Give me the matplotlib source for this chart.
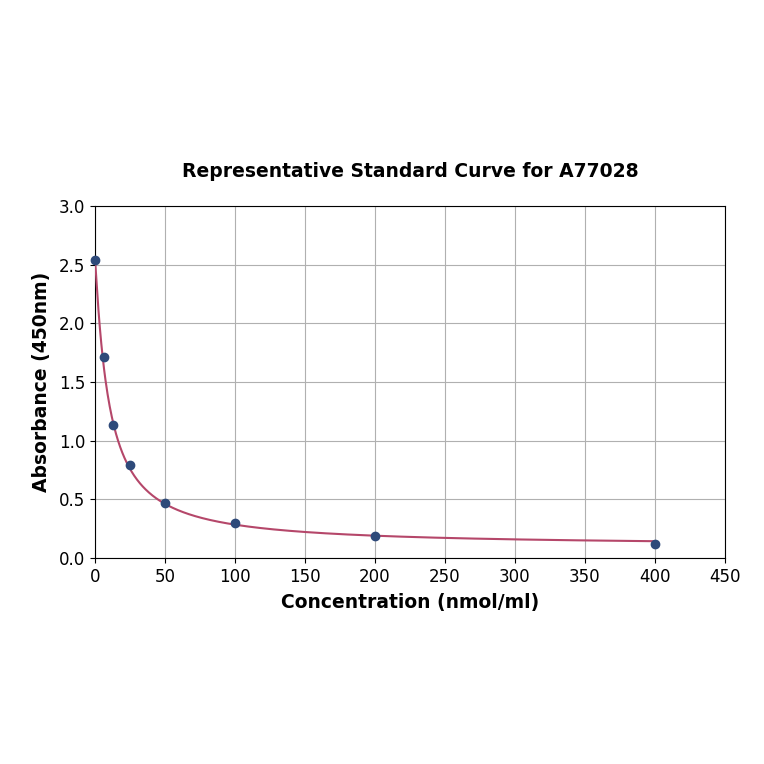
import numpy as np
import matplotlib
matplotlib.use("Agg")
import matplotlib.pyplot as plt

# standard points
conc = [0, 6.25, 12.5, 25, 50, 100, 200, 400]
absorb = [2.54, 1.71, 1.13, 0.79, 0.47, 0.30, 0.19, 0.12]

# 4PL fit parameters (top, slope, midpoint, bottom) estimated from the curve
fit_top = 2.55
fit_slope = 1.09
fit_mid = 10.0
fit_bottom = 0.10

def four_pl(x):
	return fit_bottom + (fit_top - fit_bottom) / (1 + (x / fit_mid) ** fit_slope)

fig = plt.figure(figsize=(7.64, 7.64), dpi=100, facecolor="white")
ax = fig.add_axes([95/764, 1-558/764, 630/764, 352/764])

xs = np.linspace(0, max(conc), 800)
ax.plot(xs, four_pl(xs), color="#b5476a", lw=1.5, zorder=3)
ax.scatter(conc, absorb, s=36, color="#2e4a7a", zorder=4, clip_on=False)

ax.set_xlim(0, 450)
ax.set_ylim(0, 3.0)
ax.set_xticks(np.arange(0, 451, 50))
ax.set_yticks(np.arange(0, 3.01, 0.5))
ax.grid(True, color="#b0b0b0", lw=0.8)
ax.set_axisbelow(True)
ax.tick_params(labelsize=12)

ax.set_title("Representative Standard Curve for A77028", fontsize=13.5, fontweight="bold", pad=21)
ax.set_xlabel("Concentration (nmol/ml)", fontsize=13.5, fontweight="bold", labelpad=5)
ax.set_ylabel("Absorbance (450nm)", fontsize=13.5, fontweight="bold", labelpad=6)

fig.savefig("out.png", dpi=100)
